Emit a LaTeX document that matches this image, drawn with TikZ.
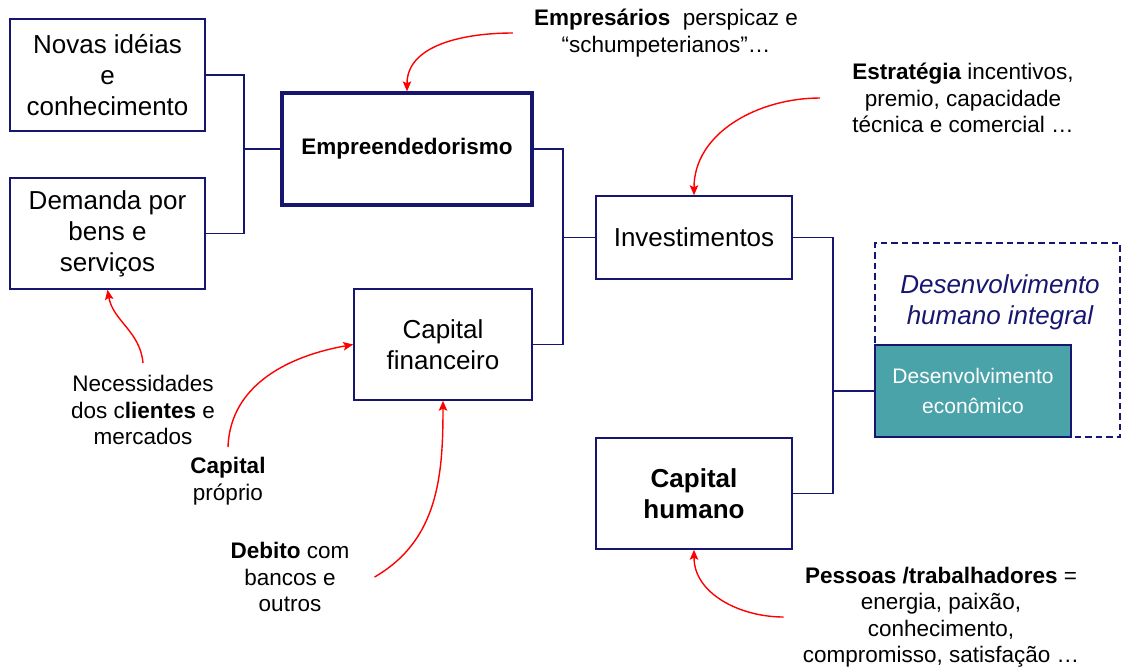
\documentclass[tikz,border=0pt]{standalone}
\usepackage{fontspec}
\setmainfont{Liberation Sans}
\usepackage{tikz}
\usetikzlibrary{positioning,arrows.meta}
\definecolor{navyline}{RGB}{22,22,112}
\definecolor{tealfill}{RGB}{75,163,170}
\newcommand{\grande}{\fontsize{26}{31}\selectfont}
\newcommand{\pequeno}{\fontsize{22.5}{26.5}\selectfont}
\tikzset{
    block/.style={
           rectangle,
           draw=navyline, line width=1.5pt,
           fill=white,
           inner sep=0pt,
           align=center,
           font=\grande
           },
    note/.style={
           inner sep=0pt,
           align=center,
           font=\pequeno
           },
    link/.style={draw=navyline, line width=1.3pt},
    push/.style={red, line width=1.4pt, ->},
}

\begin{document}
\begin{tikzpicture}[x=1pt,y=1pt,>={Stealth[length=10pt,width=8.5pt,inset=2pt]}]
\useasboundingbox (0,0) rectangle (1122,-670);

% left column
\node[block,
      minimum width=195pt, minimum height=112pt
      ] (NOVAS) at (107.5,-75)
  {Novas idéias\\ e\\ conhecimento};
\node[block,
      minimum width=195pt, minimum height=111pt,
      below of=NOVAS,
      node distance=158.5pt,
      anchor=center] (DEMANDA)
  {Demanda por\\ bens e\\ serviços};

% middle
\node[block, line width=3.3pt,
      minimum width=250pt, minimum height=112pt,
      font=\pequeno\bfseries
      ] (EMPR) at (407,-149)
  {Empreendedorismo};
\node[block,
      minimum width=178pt, minimum height=111pt
      ] (CAPFIN) at (443,-344.5)
  {Capital\\ financeiro};
\node[block,
      minimum width=196pt, minimum height=83pt
      ] (INV) at (694,-237.5)
  {Investimentos};
\node[block,
      minimum width=196pt, minimum height=111pt,
      font=\grande\bfseries,
      below of=INV,
      node distance=256pt,
      anchor=center] (CAPHUM)
  {Capital\\ humano};

% right: dashed frame + filled box
\node[draw=navyline, line width=1.7pt, dash pattern=on 6.5pt off 4pt,
      minimum width=245pt, minimum height=194pt, inner sep=0pt
      ] (DHI) at (997.5,-340) {};
\node[note, font=\grande\itshape, text=navyline] (DHITXT) at (1000,-302)
  {Desenvolvimento\\ humano integral};
\node[block, fill=tealfill, text=white,
      font=\fontsize{21}{30}\selectfont,
      minimum width=196pt, minimum height=92pt
      ] (DESECON) at (973,-391)
  {Desenvolvimento\\ econômico};

% notes
\node[note] (EMPRESARIOS) at (666,-33)
  {\textbf{Empresários}\ \ perspicaz e\\ “schumpeterianos”…};
\node[note] (ESTRAT) at (963,-98)
  {\textbf{Estratégia} incentivos,\\ premio, capacidade\\ técnica e comercial …};
\node[note] (NECESS) at (143,-410)
  {Necessidades\\ dos c\textbf{lientes} e\\ mercados};
\node[note] (PROPRIO) at (228,-481)
  {\textbf{Capital}\\ próprio};
\node[note] (DEBITO) at (290,-577)
  {\textbf{Debito} com\\ bancos e\\ outros};
\node[note] (PESSOAS) at (941,-617)
  {\textbf{Pessoas /trabalhadores} =\\ energia, paixão,\\ conhecimento,\\ compromisso, satisfação …};

% free ends of the red arrows
\coordinate[left=21pt of EMPRESARIOS.west] (e1);
\coordinate[left=32pt of ESTRAT.west] (e2);
\coordinate[above=12pt of NECESS.north] (e3);
\coordinate[above=10pt of PROPRIO.north] (e4);
\coordinate[right=25pt of DEBITO.east] (e5);
\coordinate[left=19pt of PESSOAS.west] (e6);

% junctions
\coordinate (JL) at (244,-149);
\coordinate (JM) at (563,-237.5);
\coordinate (JR) at (833,-391);

\draw[link] (NOVAS.east) -| (JL) |- (DEMANDA.east);
\draw[link] (JL) -- (EMPR.west);
\draw[link] (EMPR.east) -| (JM) |- (CAPFIN.east);
\draw[link] (JM) -- (INV.west);
\draw[link] (INV.east) -| (JR) |- (CAPHUM.east);
\draw[link] (JR) -- (DESECON.west);

\draw[push] (e1) to[out=180,in=90] (EMPR.north);
\draw[push] (e2) to[out=180,in=90] (INV.north);
\draw[push] (e3) to[out=95,in=-80] (DEMANDA.south);
\draw[push] (e4) to[out=88,in=190] (CAPFIN.west);
\draw[push] (e5) to[out=30,in=-90] (CAPFIN.south);
\draw[push] (e6) to[out=180,in=-90] (CAPHUM.south);

\end{tikzpicture}
\end{document}
